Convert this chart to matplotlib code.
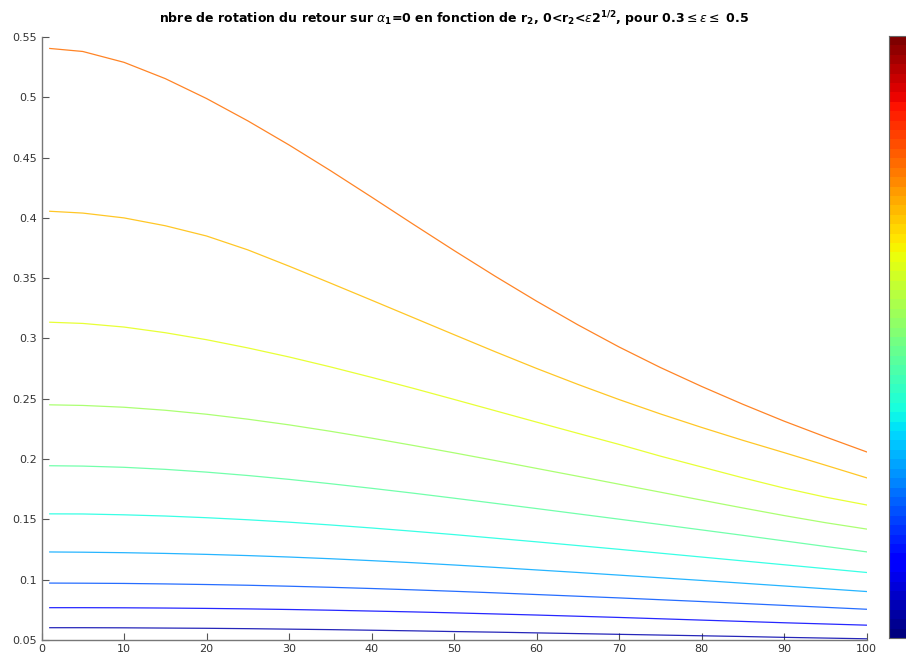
import numpy as np
import matplotlib
matplotlib.use("Agg")
import matplotlib.pyplot as plt
from matplotlib.colors import ListedColormap

# x positions (index of r2 sample)
x_pts = [1, 5, 10, 15, 20, 25, 30, 35, 40, 45, 50, 55, 60, 65, 70, 75, 80, 85, 90, 95, 100]

# rotation numbers for each epsilon, from top curve to bottom
curve_1 = [0.5405, 0.5380, 0.5290, 0.5155, 0.4990, 0.4805, 0.4605, 0.4393, 0.4173, 0.3950, 0.3730,
           0.3516, 0.3310, 0.3114, 0.2930, 0.2760, 0.2603, 0.2455, 0.2315, 0.2185, 0.2060]
curve_2 = [0.4055, 0.4040, 0.4000, 0.3935, 0.3850, 0.3735, 0.3600, 0.3460, 0.3318, 0.3175, 0.3032,
           0.2890, 0.2752, 0.2620, 0.2494, 0.2375, 0.2263, 0.2156, 0.2054, 0.1950, 0.1845]
curve_3 = [0.3135, 0.3125, 0.3095, 0.3048, 0.2990, 0.2922, 0.2847, 0.2765, 0.2678, 0.2588, 0.2495,
           0.2401, 0.2307, 0.2214, 0.2122, 0.2025, 0.1935, 0.1845, 0.1760, 0.1685, 0.1620]
curve_4 = [0.2450, 0.2445, 0.2430, 0.2405, 0.2372, 0.2331, 0.2284, 0.2231, 0.2174, 0.2114, 0.2052,
           0.1988, 0.1923, 0.1858, 0.1792, 0.1726, 0.1660, 0.1595, 0.1532, 0.1473, 0.1420]
curve_5 = [0.1945, 0.1942, 0.1932, 0.1915, 0.1892, 0.1864, 0.1832, 0.1796, 0.1758, 0.1718, 0.1676,
           0.1633, 0.1590, 0.1546, 0.1502, 0.1458, 0.1413, 0.1368, 0.1322, 0.1276, 0.1231]
curve_6 = [0.1546, 0.1545, 0.1538, 0.1528, 0.1514, 0.1497, 0.1477, 0.1454, 0.1429, 0.1402, 0.1374,
           0.1344, 0.1314, 0.1283, 0.1252, 0.1220, 0.1188, 0.1156, 0.1124, 0.1092, 0.1060]
curve_7 = [0.1230, 0.1228, 0.1224, 0.1218, 0.1210, 0.1200, 0.1188, 0.1174, 0.1158, 0.1141, 0.1122,
           0.1102, 0.1081, 0.1060, 0.1038, 0.1016, 0.0994, 0.0971, 0.0948, 0.0925, 0.0902]
curve_8 = [0.0972, 0.0971, 0.0969, 0.0965, 0.0960, 0.0954, 0.0946, 0.0937, 0.0927, 0.0916, 0.0904,
           0.0891, 0.0877, 0.0863, 0.0849, 0.0834, 0.0819, 0.0803, 0.0787, 0.0771, 0.0755]
curve_9 = [0.0768, 0.0768, 0.0767, 0.0765, 0.0762, 0.0758, 0.0753, 0.0747, 0.0740, 0.0733, 0.0725,
           0.0716, 0.0707, 0.0697, 0.0687, 0.0676, 0.0665, 0.0654, 0.0643, 0.0633, 0.0623]
curve_10 = [0.0602, 0.0602, 0.0601, 0.0599, 0.0597, 0.0594, 0.0590, 0.0586, 0.0581, 0.0576, 0.0570,
            0.0565, 0.0559, 0.0553, 0.0547, 0.0541, 0.0535, 0.0529, 0.0522, 0.0516, 0.0510]

curves = [curve_1, curve_2, curve_3, curve_4, curve_5,
          curve_6, curve_7, curve_8, curve_9, curve_10]
# position of each curve's colour in the jet colormap
color_levels = [9.5 / 12, 8.5 / 12, 7.5 / 12, 6.5 / 12, 5.5 / 12,
                4.5 / 12, 3.5 / 12, 2.5 / 12, 1.5 / 12, 0.5 / 12]

x_ticks = [0, 10, 20, 30, 40, 50, 60, 70, 80, 90, 100]
y_ticks = [0.05, 0.1, 0.15, 0.2, 0.25, 0.3, 0.35, 0.4, 0.45, 0.5, 0.55]
y_tick_labels = ["0.05", "0.1", "0.15", "0.2", "0.25", "0.3", "0.35", "0.4", "0.45", "0.5", "0.55"]

title = (r"nbre de rotation du retour sur $\alpha_{\mathbf{1}}$=0 en fonction de "
         r"r$_{\mathbf{2}}$, 0<r$_{\mathbf{2}}$<$\epsilon$2$^{\mathbf{1/2}}$, "
         r"pour 0.3$\leq\epsilon\leq$ 0.5")

plt.rcParams['font.family'] = ['DejaVu Sans']
plt.rcParams['mathtext.fontset'] = 'dejavusans'

fig = plt.figure(figsize=(9.06, 6.55), dpi=100)
ax = fig.add_axes([41.5 / 906, 15 / 655, 825 / 906, 603 / 655])

jet = plt.get_cmap('jet')
for vals, lev in zip(curves, color_levels):
    ax.plot(x_pts, vals, color=jet(lev), linewidth=0.9, alpha=0.85)

ax.set_xlim(0, 100)
ax.set_ylim(0.05, 0.55)
ax.set_xticks(x_ticks)
ax.set_yticks(y_ticks)
ax.set_yticklabels(y_tick_labels)
for s in ['top', 'right']:
    ax.spines[s].set_visible(False)
for s in ['left', 'bottom']:
    ax.spines[s].set_color('#777777')
    ax.spines[s].set_linewidth(1.0)
ax.tick_params(direction='in', length=5, width=0.8, color='#555555',
               labelsize=8, labelcolor='#333333', pad=3)
ax.set_title(title, fontsize=9.0, fontweight='bold', pad=10)

# colorbar (jet, 64 levels), cut by the figure edge
cax = fig.add_axes([889 / 906, 17 / 655, 30 / 906, 602 / 655])
cmap64 = ListedColormap(jet(np.linspace(0, 1, 64)))
grad = np.linspace(0, 1, 64).reshape(-1, 1)
cax.imshow(grad, aspect='auto', cmap=cmap64, origin='lower')
cax.set_xticks([])
cax.set_yticks([])
for s in cax.spines.values():
    s.set_color('#666666')
    s.set_linewidth(0.8)

fig.savefig('out.png', dpi=100)
